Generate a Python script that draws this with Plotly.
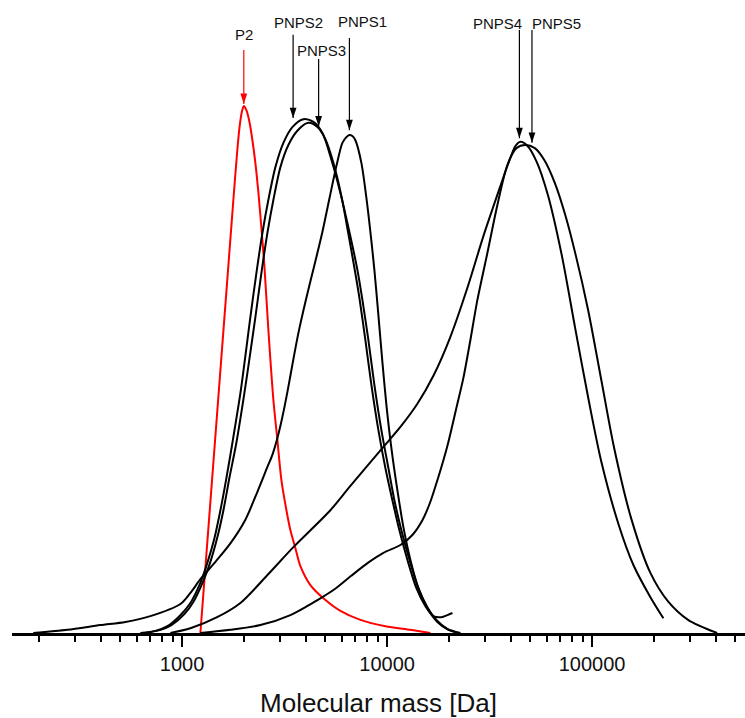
import math
import plotly.graph_objects as go

# Molecular-mass distributions (relative detector signal vs. mass in Da)
p2_mass = [1228, 1359, 1503, 1663, 1779, 1851, 1904, 1957, 2002, 2059, 2130, 2203, 2279, 2357,
           2437, 2521, 2636, 2789, 2917, 3051, 3228, 3376, 3571, 3777, 4226, 4890, 5919, 7410,
           9810, 12990, 16260]
p2_signal = [0.0, 0.224, 0.448, 0.672, 0.822, 0.907, 0.958, 0.989, 1.0, 0.992, 0.970, 0.935, 0.891,
             0.835, 0.769, 0.696, 0.575, 0.442, 0.366, 0.290, 0.233, 0.195, 0.161, 0.127, 0.091,
             0.066, 0.042, 0.025, 0.013, 0.006, 0.0]

pnps1_mass = [188, 276, 399, 529, 700, 981, 1098, 1228, 1454, 1720, 2036, 2330, 2607, 2757, 2917,
              3085, 3263, 3451, 3692, 4040, 4420, 4835, 5230, 5658, 6053, 6331, 6549, 6771,
              7004, 7492, 7929, 8290, 8670, 9070, 9487, 9922, 10495, 11227, 12010, 12990, 14214,
              15726, 17595, 19907, 22270]
pnps1_signal = [0.0, 0.006, 0.015, 0.021, 0.032, 0.055, 0.076, 0.102, 0.135, 0.170, 0.215, 0.268,
                0.315, 0.338, 0.370, 0.410, 0.457, 0.509, 0.569, 0.636, 0.698, 0.761, 0.824,
                0.886, 0.930, 0.941, 0.945, 0.943, 0.935, 0.892, 0.825, 0.761, 0.689, 0.603,
                0.514, 0.433, 0.351, 0.271, 0.201, 0.139, 0.085, 0.047, 0.021, 0.006, 0.0]

pnps2_mass = [626, 741, 848, 981, 1098, 1228, 1328, 1438, 1538, 1645, 1760, 1925, 2036, 2154, 2304,
              2465, 2636, 2852, 3120, 3451, 3906, 4370, 4835, 5350, 5919, 6549, 7164, 7578, 8103,
              8670, 9380, 10147, 10853, 11743, 12850, 14214, 15726, 17398, 19683, 22790]
pnps2_signal = [0.0, 0.004, 0.013, 0.034, 0.057, 0.095, 0.133, 0.180, 0.233, 0.294, 0.361, 0.455,
                0.526, 0.600, 0.683, 0.759, 0.822, 0.884, 0.930, 0.960, 0.975, 0.970, 0.949,
                0.898, 0.835, 0.761, 0.689, 0.632, 0.556, 0.471, 0.385, 0.313, 0.252, 0.195,
                0.139, 0.085, 0.049, 0.025, 0.008, 0.0]

pnps3_mass = [662, 784, 887, 1026, 1135, 1270, 1374, 1487, 1591, 1701, 1840, 2013, 2154, 2279, 2437,
              2607, 2789, 3017, 3300, 3651, 4131, 4571, 5000, 5470, 5986, 6476, 6926, 7327, 7834,
              8383, 9070, 9810, 10614, 11481, 12561, 13900, 15375, 16823, 18404, 19683, 20825]
pnps3_signal = [0.0, 0.006, 0.015, 0.036, 0.059, 0.099, 0.135, 0.182, 0.233, 0.294, 0.361, 0.455,
                0.533, 0.600, 0.683, 0.759, 0.822, 0.884, 0.926, 0.953, 0.968, 0.960, 0.937,
                0.892, 0.829, 0.757, 0.693, 0.636, 0.556, 0.471, 0.385, 0.313, 0.252, 0.195,
                0.139, 0.085, 0.051, 0.032, 0.030, 0.034, 0.038]

pnps4_mass = [877, 1098, 1482, 1925, 2636, 3491, 5290, 6622, 9594, 11612, 14055, 16823, 20363,
              24650, 29497, 35700, 39950, 42260, 44690, 48200, 53540, 60870, 71120, 82560, 96210,
              111100, 134900, 159040, 192500, 222740]
pnps4_signal = [0.0, 0.009, 0.030, 0.057, 0.112, 0.163, 0.233, 0.279, 0.353, 0.391, 0.435, 0.488,
                0.562, 0.655, 0.753, 0.848, 0.902, 0.924, 0.932, 0.925, 0.895, 0.831, 0.717,
                0.580, 0.442, 0.324, 0.205, 0.129, 0.068, 0.028]

pnps5_mass = [1228, 1720, 2410, 3376, 4597, 5627, 6659, 8057, 9594, 11612, 13285, 14866, 16260,
              17595, 19683, 21777, 23565, 25488, 27572, 30847, 34514, 38624, 42720, 47280, 52550,
              58550, 65770, 73990, 83200, 95630, 110900, 128100, 155000, 192500, 234700, 293900,
              407300]
pnps5_signal = [0.0, 0.006, 0.015, 0.034, 0.063, 0.085, 0.108, 0.133, 0.152, 0.167, 0.186, 0.214,
                0.249, 0.290, 0.355, 0.427, 0.484, 0.556, 0.632, 0.721, 0.812, 0.888, 0.920,
                0.926, 0.920, 0.897, 0.854, 0.793, 0.717, 0.613, 0.480, 0.351, 0.218, 0.114,
                0.060, 0.025, 0.0]

series = [
    ("P2", p2_mass, p2_signal, "#ff0000"),
    ("PNPS1", pnps1_mass, pnps1_signal, "#000000"),
    ("PNPS2", pnps2_mass, pnps2_signal, "#000000"),
    ("PNPS3", pnps3_mass, pnps3_signal, "#000000"),
    ("PNPS4", pnps4_mass, pnps4_signal, "#000000"),
    ("PNPS5", pnps5_mass, pnps5_signal, "#000000"),
]

# Peak markers: label, mass the arrow points at, arrow tip / tail heights, label anchor
marker_labels = ["P2", "PNPS2", "PNPS3", "PNPS1", "PNPS4", "PNPS5"]
marker_mass = [2000, 3480, 4635, 6550, 44200, 50900]
marker_tip = [1.004, 0.977, 0.961, 0.954, 0.939, 0.930]
marker_tail = [1.106, 1.135, 1.089, 1.129, 1.144, 1.144]
label_mass = [2000, 3680, 4765, 7600, 34750, 66700]
label_height = [1.135, 1.158, 1.106, 1.160, 1.156, 1.156]
marker_colors = ["#ff0000", "#000000", "#000000", "#000000", "#000000", "#000000"]

major_ticks = [1000, 10000, 100000]
major_labels = ["1000", "10000", "100000"]
minor_ticks = [m * d for d in (100, 1000, 10000) for m in range(2, 10)] + [200000, 300000, 400000, 500000]

fig = go.Figure()
for name, xs, ys, color in series:
    fig.add_trace(go.Scatter(
        x=xs, y=ys, mode="lines", name=name,
        line=dict(color=color, width=2, shape="spline", smoothing=0.8),
        showlegend=False, hoverinfo="skip",
    ))

# Arrows: thin shaft plus a filled head whose tip sits on the target point
for lab, mx, tip, tail, col in zip(marker_labels, marker_mass, marker_tip, marker_tail, marker_colors):
    fig.add_trace(go.Scatter(
        x=[mx, mx], y=[tail, tip], mode="lines",
        line=dict(color=col, width=1.2),
        showlegend=False, hoverinfo="skip",
    ))
    fig.add_trace(go.Scatter(
        x=[mx], y=[tip], mode="markers",
        marker=dict(symbol="arrow", angle=180, size=11, color=col, line=dict(width=0)),
        showlegend=False, hoverinfo="skip",
    ))

# Annotation x positions on a log axis are given as log10 of the mass
for lab, lx, ly in zip(marker_labels, label_mass, label_height):
    fig.add_annotation(
        x=math.log10(lx), y=ly, xref="x", yref="y", text=lab, showarrow=False,
        font=dict(family="Liberation Sans, Arial, sans-serif", size=15, color="#111111"),
        xanchor="center", yanchor="middle",
    )

fig.update_layout(
    width=745, height=718,
    margin=dict(l=12, r=0, t=0, b=85),
    paper_bgcolor="white", plot_bgcolor="white",
    font=dict(family="Liberation Sans, Arial, sans-serif", color="#111111"),
    xaxis=dict(
        type="log", range=[2.1703, 5.7459],
        showline=True, linecolor="#000000", linewidth=3,
        showgrid=False, zeroline=False,
        tickmode="array", tickvals=major_ticks, ticktext=major_labels,
        ticks="outside", ticklen=11, tickwidth=2, tickcolor="#000000",
        tickfont=dict(size=20, color="#111111"),
        minor=dict(tickmode="array", tickvals=minor_ticks, ticks="outside",
                   ticklen=6, tickwidth=2, tickcolor="#000000", showgrid=False),
        title=dict(text="Molecular mass [Da]", font=dict(size=26, color="#111111"), standoff=22),
    ),
    yaxis=dict(visible=False, range=[0, 1.2011], showgrid=False, zeroline=False),
)

fig.write_html("out.html")
